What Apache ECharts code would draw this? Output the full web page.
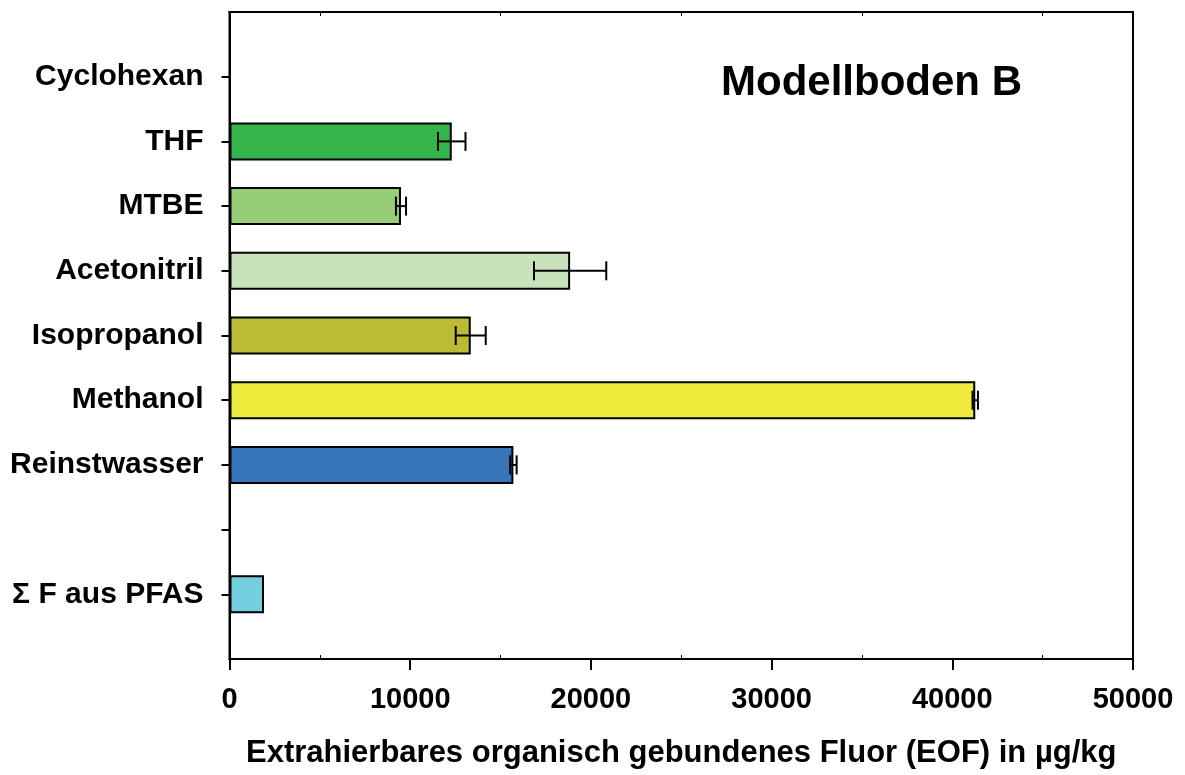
<!DOCTYPE html>
<html>
<head>
<meta charset="utf-8">
<script src="https://cdn.jsdelivr.net/npm/echarts@6/dist/echarts.min.js"></script>
<style>
  html, body { margin: 0; padding: 0; background: #fff; }
  #chart { width: 1185px; height: 775px; }
</style>
</head>
<body>
<div id="chart"></div>
<script>
// Categories (empty strings are spacer slots on the axis)
const categories = ['', 'Cyclohexan', 'THF', 'MTBE', 'Acetonitril', 'Isopropanol', 'Methanol', 'Reinstwasser', '', '\u03A3 F aus PFAS', ''];
// EOF values in µg/kg
const values = [null, null, 12300, 9490, 18850, 13350, 41270, 15710, null, 1910, null];
// Standard deviations (error bars)
const errors = [null, null, 760, 280, 2000, 830, 150, 180, null, null, null];
const barColors = ['#fff', '#fff', '#34b44a', '#97cd79', '#c8e3bc', '#bbbb34', '#eeeb3c', '#3874b9', '#fff', '#72cfdb', '#fff'];
const xTicks = [0, 10000, 20000, 30000, 40000, 50000];
const xMinorTicks = [5000, 15000, 25000, 35000, 45000];

const FONT = '"Liberation Sans", Arial, sans-serif';

const barData = values.map((v, i) => v == null ? null : {
  value: v,
  itemStyle: { color: barColors[i] }
});
const errData = [];
values.forEach((v, i) => {
  if (v != null && errors[i] != null) errData.push([i, v - errors[i], v + errors[i]]);
});

const chart = echarts.init(document.getElementById('chart'), null, { renderer: 'canvas' });
chart.setOption({
  animation: false,
  backgroundColor: '#fff',
  grid: {
    left: 229.5, right: 52, top: 12, bottom: 116,
    show: true, borderColor: '#000', borderWidth: 2, backgroundColor: 'transparent'
  },
  graphic: [{
    type: 'text',
    left: 721, top: 62,
    style: { text: 'Modellboden B', font: 'bold 42px ' + FONT, fill: '#000' }
  }],
  xAxis: [{
    type: 'value', position: 'bottom', min: 0, max: 50000, interval: 10000,
    splitLine: { show: false },
    axisLine: { show: true, lineStyle: { color: '#000', width: 2 } },
    axisTick: { show: true, inside: false, length: 11, lineStyle: { color: '#000', width: 2 }, customValues: xTicks },
    axisLabel: { show: true, customValues: xTicks, margin: 26, fontSize: 29, fontWeight: 'bold', fontFamily: FONT, color: '#000',
      formatter: function (v) { return String(v); } },
    name: 'Extrahierbares organisch gebundenes Fluor (EOF) in \u00B5g/kg',
    nameLocation: 'middle', nameGap: 79,
    nameTextStyle: { fontSize: 31, fontWeight: 'bold', fontFamily: FONT, color: '#000' }
  }, {
    type: 'value', position: 'bottom', min: 0, max: 50000, interval: 5000,
    splitLine: { show: false },
    axisLine: { show: false },
    axisTick: { show: true, inside: true, length: 4, lineStyle: { color: '#000', width: 1 }, customValues: xMinorTicks },
    axisLabel: { show: false }
  }, {
    type: 'value', position: 'top', min: 0, max: 50000, interval: 5000,
    splitLine: { show: false },
    axisLine: { show: true, lineStyle: { color: '#000', width: 2 } },
    axisTick: { show: true, inside: true, length: 4, lineStyle: { color: '#000', width: 1 }, customValues: xMinorTicks },
    axisLabel: { show: false }
  }],
  yAxis: [{
    type: 'category', data: categories, inverse: true, boundaryGap: false,
    axisLine: { show: true, lineStyle: { color: '#000', width: 2 } },
    axisTick: { show: true, inside: false, length: 8, lineStyle: { color: '#000', width: 2 },
      interval: function (idx) { return idx !== 0 && idx !== categories.length - 1; } },
    axisLabel: { interval: 0, margin: 26, fontSize: 30, fontWeight: 'bold', fontFamily: FONT, color: '#000' },
    splitLine: { show: false }
  }],
  series: [{
    type: 'bar', xAxisIndex: 0, yAxisIndex: 0,
    data: barData, barWidth: 38,
    itemStyle: { borderColor: '#000', borderWidth: 2 },
    z: 2
  }, {
    type: 'custom', xAxisIndex: 0, yAxisIndex: 0,
    data: errData,
    encode: { y: 0, x: [1, 2] },
    z: 3,
    renderItem: function (params, api) {
      const yi = api.value(0);
      const lo = api.coord([api.value(1), yi]);
      const hi = api.coord([api.value(2), yi]);
      const h = 9.5;
      const st = { stroke: '#000', lineWidth: 2, fill: 'none' };
      return {
        type: 'group',
        children: [
          { type: 'line', shape: { x1: lo[0], y1: lo[1], x2: hi[0], y2: hi[1] }, style: st },
          { type: 'line', shape: { x1: lo[0], y1: lo[1] - h, x2: lo[0], y2: lo[1] + h }, style: st },
          { type: 'line', shape: { x1: hi[0], y1: hi[1] - h, x2: hi[0], y2: hi[1] + h }, style: st }
        ]
      };
    }
  }]
});
</script>
</body>
</html>
